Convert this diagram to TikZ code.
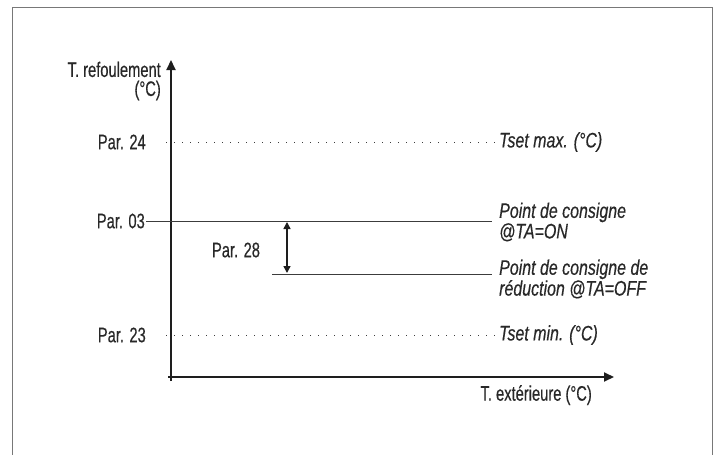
\documentclass[tikz,border=0pt]{standalone}
\usepackage{fontspec}
\setmainfont{Liberation Sans}[FakeStretch=0.70,FakeBold=0.4]
\newfontfamily\itlblfont{Liberation Sans}[FakeStretch=0.76,FakeBold=0.4]
\usetikzlibrary{arrows.meta}

\definecolor{framegray}{RGB}{120,120,120}
\definecolor{linegray}{RGB}{60,60,60}
\definecolor{textgray}{RGB}{40,40,40}
\definecolor{axisblack}{RGB}{30,30,30}

\tikzset{
  lbl/.style={font=\fontsize{21}{19}\selectfont, text=textgray, inner sep=1pt},
  ital/.style={font=\itlblfont\fontsize{21}{18}\selectfont\itshape, text=textgray, inner sep=1pt, align=left, anchor=west},
  axis/.style={line width=2pt, draw=axisblack, -{Triangle[length=10pt,width=9pt]}},
  dotline/.style={draw=linegray, line width=1pt, dash pattern=on 1pt off 7pt},
  setline/.style={draw=linegray, line width=1pt}
}

\begin{document}
\begin{tikzpicture}[x=1pt,y=-1pt]
\useasboundingbox (0,0) rectangle (720,455);

% frame, open at the bottom
\draw[framegray, line width=1pt] (12,455) -- (12,7) -- (712,7) -- (712,455);

% axes
\coordinate (o1) at (171,381);
\coordinate (ytop) at (171,60);
\coordinate (o2) at (168,377);
\coordinate (xend) at (614,377);
\draw[axis] (o1) -- (ytop);
\draw[axis] (o2) -- (xend);

\node[lbl, anchor=east, align=right] (ylab) at (162,81) {T. refoulement\\(°C)};
\node[lbl, anchor=north east] (xlab) at (593,384) {T. extérieure (°C)};

% Par. 24
\node[lbl, anchor=east] (p24) at (147,142) {Par. 24};
\node[ital] (tmax) at (498,142) {Tset max. (°C)};
\draw[dotline] ([xshift=19pt]p24.east) -- (tmax.west);

% Par. 03
\node[lbl, anchor=east] (p03) at (146,221) {Par. 03};
\node[ital] (on) at (498,222) {Point de consigne\\@TA=ON};
\coordinate (on1) at (492,221);
\draw[setline] (p03.east) -- (on1);

% Par. 28 (reduction)
\coordinate (red0) at (272,274);
\coordinate (red1) at (492,274);
\node[ital] (off) at (498,279) {Point de consigne de\\réduction @TA=OFF};
\draw[setline] (red0) -- (red1);
\coordinate (a1) at (287,222);
\coordinate (a2) at (287,273);
\draw[draw=axisblack, line width=1.5pt, {Triangle[length=7pt,width=7pt]}-{Triangle[length=7pt,width=7pt]}] (a1) -- (a2);
\node[lbl] (p28) at (236,250) {Par. 28};

% Par. 23
\node[lbl, anchor=east] (p23) at (147,335) {Par. 23};
\node[ital] (tmin) at (498,335) {Tset min. (°C)};
\draw[dotline] ([xshift=19pt]p23.east) -- (tmin.west);
\end{tikzpicture}
\end{document}
